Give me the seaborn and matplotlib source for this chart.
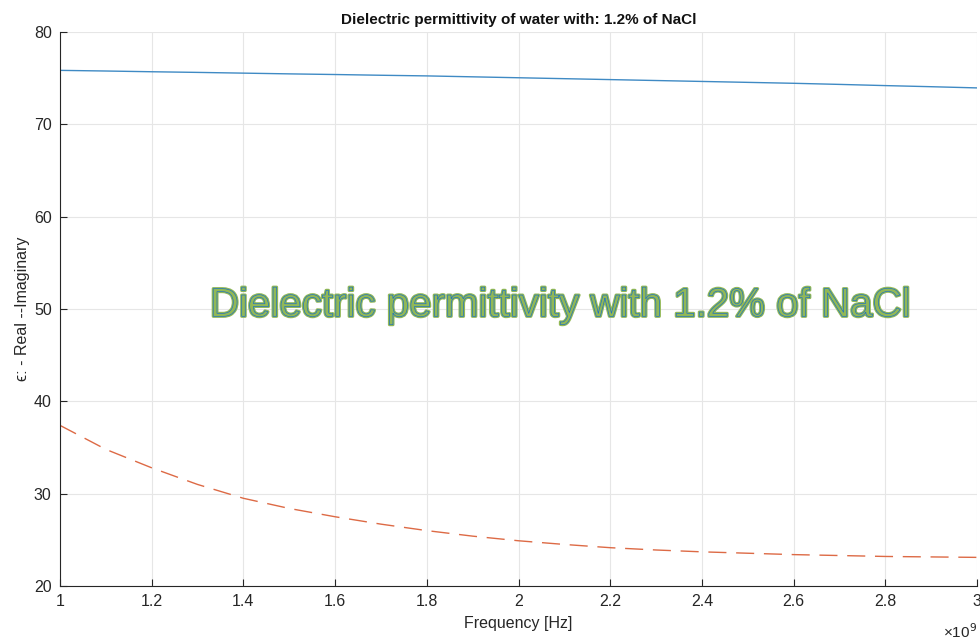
import numpy as np
import pandas as pd
import seaborn as sns
import matplotlib.pyplot as plt
from matplotlib import patheffects as pe
from matplotlib.ticker import FuncFormatter

# values (frequency in GHz, permittivity)
freq_ghz = [1.0, 1.1, 1.2, 1.3, 1.4, 1.5, 1.6, 1.7, 1.8, 1.9, 2.0,
            2.1, 2.2, 2.3, 2.4, 2.5, 2.6, 2.7, 2.8, 2.9, 3.0]
eps_real = [75.85, 75.78, 75.7, 75.63, 75.55, 75.47, 75.4, 75.32, 75.25, 75.15, 75.05,
            74.95, 74.85, 74.75, 74.65, 74.55, 74.45, 74.33, 74.2, 74.08, 73.95]
eps_imag = [37.4, 34.8, 32.8, 31.0, 29.5, 28.4, 27.5, 26.7, 26.0, 25.4, 24.9,
            24.5, 24.15, 23.9, 23.7, 23.55, 23.4, 23.3, 23.2, 23.15, 23.1]

df = pd.DataFrame({"freq": np.array(freq_ghz) * 1e9,
                   "real": eps_real, "imag": eps_imag})

sns.set_style("whitegrid")
plt.rcParams['font.family'] = ['Liberation Sans', 'DejaVu Sans']

fig = plt.figure(figsize=(9.8, 6.41), dpi=100)
ax = fig.add_axes([0.0612, 0.0858, 0.9358, 0.8642])

sns.lineplot(data=df, x="freq", y="real", color="#3f8ac4", linewidth=1.0, ax=ax)
sns.lineplot(data=df, x="freq", y="imag", color="#dd6a45", linewidth=1.0,
             dashes=False, ax=ax, linestyle=(0, (13, 7)))

ax.set_xlim(1e9, 3e9)
ax.set_ylim(20, 80)
ax.set_xticks(np.arange(1.0, 3.01, 0.2) * 1e9)
ax.set_yticks(range(20, 81, 10))
ax.xaxis.set_major_formatter(FuncFormatter(lambda v, p: "%g" % round(v / 1e9, 2)))
ax.grid(True, color="#e6e6e6", linewidth=0.8)
for s in ["top", "right"]:
    ax.spines[s].set_visible(False)
for s in ["left", "bottom"]:
    ax.spines[s].set_color("#262626")
    ax.spines[s].set_linewidth(0.8)
ax.tick_params(direction="in", length=5, width=0.8, colors="#262626",
               labelsize=11.5, pad=6, left=True, bottom=True)

ax.set_xlabel("Frequency [Hz]", fontsize=11.5, color="#262626", labelpad=5)
ax.set_ylabel("ϵ: - Real --Imaginary", fontsize=11.5, color="#262626", labelpad=3)
ax.set_title("Dielectric permittivity of water with: 1.2% of NaCl",
             fontsize=11, fontweight="bold", color="#111111", pad=6)
ax.text(1.0, -0.065, "×10$^9$", transform=ax.transAxes, ha="right", va="top",
        fontsize=11, color="#262626")

green = "#92b856"
ax.text(1.327e9, 50.4, "Dielectric permittivity with 1.2% of NaCl",
        fontsize=29, color=green, va="center", ha="left",
        path_effects=[pe.Stroke(linewidth=2.2, foreground=green), pe.Normal(),
                      pe.PathPatchEffect(edgecolor="#1f72c2", facecolor="none",
                                         linewidth=0.5)])

fig.savefig("out.png", dpi=100)
